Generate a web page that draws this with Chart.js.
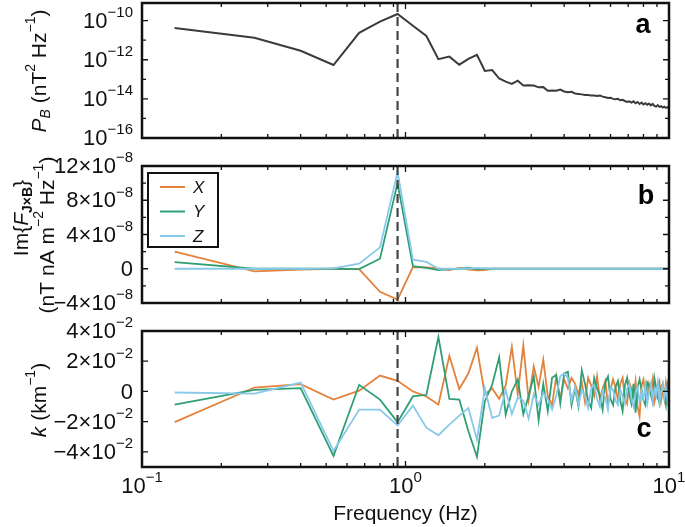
<!DOCTYPE html>
<html>
<head>
<meta charset="utf-8">
<script src="https://cdn.jsdelivr.net/npm/chart.js@4.4.1/dist/chart.umd.min.js"></script>
<style>
  html, body { margin: 0; padding: 0; background: #fff; }
  #wrap { position: relative; width: 685px; height: 527px; overflow: hidden; }
  #wrap canvas { position: absolute; left: 0; }
</style>
</head>
<body>
<div id="wrap">
  <canvas id="chartA" width="685" height="150" style="top:0px"></canvas>
  <canvas id="chartB" width="685" height="175" style="top:145px"></canvas>
  <canvas id="chartC" width="685" height="217" style="top:310px"></canvas>
</div>
<script>
// frequency bins (Hz)
const freq = [
  0.133, 0.267, 0.400, 0.533, 0.667, 0.800, 0.933, 1.067, 1.200, 1.333,
  1.467, 1.600, 1.733, 1.867, 2.000, 2.133, 2.267, 2.400, 2.533, 2.667,
  2.800, 2.933, 3.067, 3.200, 3.333, 3.467, 3.600, 3.733, 3.867, 4.000,
  4.133, 4.267, 4.400, 4.533, 4.667, 4.800, 4.933, 5.067, 5.200, 5.333,
  5.467, 5.600, 5.733, 5.867, 6.000, 6.133, 6.267, 6.400, 6.533, 6.667,
  6.800, 6.933, 7.067, 7.200, 7.333, 7.467, 7.600, 7.733, 7.867, 8.000,
  8.133, 8.267, 8.400, 8.533, 8.667, 8.800, 8.933, 9.067, 9.200, 9.333,
  9.467, 9.600, 9.733, 9.867, 10.000
];

// panel a: P_B
const powerB = [
  4.2e-11, 1.35e-11, 2.9e-12, 5.4e-13, 2.4e-11, 8.9e-11, 2.2e-10, 5.5e-11, 1.65e-11, 1.07e-12,
  1.45e-12, 5.6e-13, 1.1e-12, 1.8e-12, 2.7e-13, 3.0e-13, 1.1e-13, 7.6e-14, 5.8e-14, 8.5e-14,
  4.8e-14, 5.0e-14, 4.8e-14, 3.9e-14, 4.0e-14, 2.6e-14, 2.7e-14, 2.6e-14, 3.0e-14, 2.4e-14,
  2.2e-14, 2.3e-14, 1.9e-14, 1.8e-14, 1.7e-14, 1.6e-14, 1.6e-14, 1.5e-14, 1.5e-14, 1.4e-14,
  1.5e-14, 1.3e-14, 1.2e-14, 1.1e-14, 1.15e-14, 1.0e-14, 9.5e-15, 1.0e-14, 8.5e-15, 9.0e-15,
  7.8e-15, 7.0e-15, 7.5e-15, 6.5e-15, 7.5e-15, 6.0e-15, 7.0e-15, 5.5e-15, 6.5e-15, 5.2e-15,
  6.0e-15, 5.0e-15, 5.8e-15, 4.6e-15, 5.5e-15, 4.4e-15, 4.0e-15, 4.8e-15, 3.9e-15, 4.2e-15,
  3.6e-15, 4.0e-15, 3.5e-15, 3.8e-15, 3.2e-15
];

// panel b: Im{F_JxB}
const forceX = [
  2.0e-8, -0.3e-8, -0.1e-8, 0, -0.05e-8, -2.7e-8, -3.6e-8, 0.2e-8, 0.15e-8, 0.05e-8,
  -0.15e-8, 0.1e-8, -0.1e-8, -0.2e-8, -0.15e-8, 0, 0, 0, 0, 0,
  0, 0, 0, 0, 0, 0, 0, 0, 0, 0,
  0, 0, 0, 0, 0, 0, 0, 0, 0, 0,
  0, 0, 0, 0, 0, 0, 0, 0, 0, 0,
  0, 0, 0, 0, 0, 0, 0, 0, 0, 0,
  0, 0, 0, 0, 0, 0, 0, 0, 0, 0,
  0, 0, 0, 0, 0
];
const forceY = [
  0.77e-8, 0, 0, 0, -0.05e-8, 1.17e-8, 10.0e-8, 0.3e-8, 0.1e-8, -0.15e-8,
  -0.05e-8, 0, 0.1e-8, -0.05e-8, 0, 0, 0, 0, 0, 0,
  0, 0, 0, 0, 0, 0, 0, 0, 0, 0,
  0, 0, 0, 0, 0, 0, 0, 0, 0, 0,
  0, 0, 0, 0, 0, 0, 0, 0, 0, 0,
  0, 0, 0, 0, 0, 0, 0, 0, 0, 0,
  0, 0, 0, 0, 0, 0, 0, 0, 0, 0,
  0, 0, 0, 0, 0
];
const forceZ = [
  0, 0, 0, 0.05e-8, 0.6e-8, 2.5e-8, 11.3e-8, 1.05e-8, 0.8e-8, 0,
  0, 0, 0, 0.1e-8, 0.05e-8, 0, 0, 0, 0, 0,
  0, 0, 0, 0, 0, 0, 0, 0, 0, 0,
  0, 0, 0, 0, 0, 0, 0, 0, 0, 0,
  0, 0, 0, 0, 0, 0, 0, 0, 0, 0,
  0, 0, 0, 0, 0, 0, 0, 0, 0, 0,
  0, 0, 0, 0, 0, 0, 0, 0, 0, 0,
  0, 0, 0, 0, 0
];

// panel c: k
const kX = [
  -2.03e-2, 0.26e-2, 0.48e-2, -0.54e-2, 0.05e-2, 1.05e-2, 0.7e-2, 0.0, -0.33e-2, -0.87e-2,
  2.36e-2, 0.16e-2, 1.2e-2, 2.9e-2, -0.2e-2, 0.2e-2, -0.5e-2, 0.4e-2, 2.95e-2, -0.2e-2,
  3.05e-2, -0.55e-2, 1.65e-2, 0.3e-2, 2.1e-2, -0.3e-2, -0.9e-2, 1.0e-2, -0.5e-2, 0.8e-2,
  0.2e-2, 0.9e-2, 0.5e-2, -0.2e-2, 0.6e-2, -0.7e-2, 0.9e-2, 0.4e-2, -0.3e-2, 1.0e-2,
  -0.5e-2, 0.2e-2, 0.7e-2, -0.9e-2, 0.1e-2, 0.8e-2, 0.3e-2, -0.6e-2, 0.5e-2, 0.9e-2,
  -0.4e-2, -0.8e-2, 0.6e-2, 0.2e-2, -0.3e-2, 0.7e-2, -1.0e-2, -1.65e-2, 0.4e-2, 0.8e-2,
  -0.2e-2, -0.6e-2, 0.5e-2, 0.1e-2, 0.8e-2, -0.7e-2, -0.2e-2, 0.4e-2, 0.7e-2, -0.6e-2,
  0.1e-2, -0.5e-2, 0.6e-2, 0.0, -0.3e-2
];
const kY = [
  -0.87e-2, 0.1e-2, 0.22e-2, -4.26e-2, 0.44e-2, -0.54e-2, -2.03e-2, -0.33e-2, -0.22e-2, 3.6e-2,
  -0.5e-2, -0.54e-2, -2.64e-2, -4.33e-2, -0.66e-2, 0.44e-2, 2.26e-2, -1.53e-2, 0.0, 0.8e-2,
  -1.5e-2, -0.3e-2, 1.0e-2, -1.9e-2, 0.5e-2, -1.3e-2, 0.9e-2, 1.1e-2, -0.8e-2, 1.2e-2,
  1.3e-2, -0.9e-2, 0.2e-2, -1.0e-2, 1.4e-2, 0.5e-2, -0.6e-2, -1.1e-2, 0.9e-2, 0.2e-2,
  -0.3e-2, -1.2e-2, 0.6e-2, 1.0e-2, -0.5e-2, -0.9e-2, 0.3e-2, 0.7e-2, -0.6e-2, -1.3e-2,
  0.4e-2, 0.9e-2, -0.2e-2, -0.8e-2, 0.5e-2, -1.4e-2, 0.3e-2, 0.8e-2, 0.1e-2, -0.6e-2,
  -0.9e-2, 0.6e-2, 0.4e-2, -0.2e-2, -0.7e-2, 0.9e-2, 0.3e-2, -0.4e-2, -0.8e-2, 0.2e-2,
  0.5e-2, -0.3e-2, -0.9e-2, 0.4e-2, -0.2e-2
];
const kZ = [
  -0.07e-2, -0.15e-2, 0.59e-2, -3.94e-2, -1.2e-2, -1.2e-2, -2.25e-2, -0.94e-2, -2.4e-2, -2.9e-2,
  -2.2e-2, -1.6e-2, -1.1e-2, -3.2e-2, 0.2e-2, -1.75e-2, -1.6e-2, 0.1e-2, -1.5e-2, -0.4e-2,
  -0.6e-2, -1.8e-2, -0.2e-2, -0.9e-2, -0.1e-2, -0.5e-2, -1.2e-2, -0.3e-2, 1.0e-2, 1.2e-2,
  0.9e-2, -0.6e-2, 0.3e-2, -0.9e-2, 0.1e-2, -0.3e-2, -1.1e-2, 0.2e-2, 0.4e-2, -0.5e-2,
  -1.0e-2, 0.0, -0.4e-2, -1.2e-2, 0.3e-2, 0.1e-2, -0.6e-2, -0.9e-2, 0.1e-2, -0.3e-2,
  -0.8e-2, 0.2e-2, 0.5e-2, -0.5e-2, -1.0e-2, -0.1e-2, 0.3e-2, -0.7e-2, 0.0, -0.5e-2,
  0.4e-2, -0.8e-2, -0.1e-2, 0.5e-2, -0.6e-2, 0.1e-2, -0.3e-2, 0.6e-2, -0.7e-2, 0.0,
  0.5e-2, -0.4e-2, 0.2e-2, -0.6e-2, 0.3e-2
];

const markerFreq = 0.933;
const seriesNames = ["X", "Y", "Z"];

// tick marks and labels
const xMajor = [0.1, 1, 10];
const xMinor = [0.2, 0.3, 0.4, 0.5, 0.6, 0.7, 0.8, 0.9, 2, 3, 4, 5, 6, 7, 8, 9];
const xTickLabels = [["10", "−1"], ["10", "0"], ["10", "1"]];
const powerTicks = [1e-16, 1e-15, 1e-14, 1e-13, 1e-12, 1e-11, 1e-10];
const powerLabelTicks = [1e-16, 1e-14, 1e-12, 1e-10];
const powerTickLabels = [["10", "−16"], ["10", "−14"], ["10", "−12"], ["10", "−10"]];
const forceTicks = [-4e-8, -2e-8, 0, 2e-8, 4e-8, 6e-8, 8e-8, 10e-8, 12e-8];
const forceLabelTicks = [-4e-8, 0, 4e-8, 8e-8, 12e-8];
const forceTickLabels = [["−4×10", "−8"], ["0", ""], ["4×10", "−8"], ["8×10", "−8"], ["12×10", "−8"]];
const kTicks = [-4e-2, -2e-2, 0, 2e-2, 4e-2];
const kTickLabels = [["−4×10", "−2"], ["−2×10", "−2"], ["0", ""], ["2×10", "−2"], ["4×10", "−2"]];

const FONT = "'Liberation Sans', Arial, Helvetica, sans-serif";
const COLORS = { X: "#e2823c", Y: "#2f9f74", Z: "#88c9ea", psd: "#3b3b3b" };

function fontFor(p, size) {
  const s = p.s ? Math.round(size * 0.68) : size;
  return (p.i ? "italic " : "") + (p.b ? "bold " : "") + s + "px " + FONT;
}

function drawRich(ctx, parts, x, y, align, rot, size) {
  ctx.save();
  ctx.translate(x, y);
  if (rot) ctx.rotate(rot);
  ctx.textBaseline = "middle";
  ctx.textAlign = "left";
  ctx.fillStyle = "#111";
  let w = 0;
  parts.forEach(p => { ctx.font = fontFor(p, size); w += ctx.measureText(p.t).width; });
  let cx = align === "center" ? -w / 2 : align === "right" ? -w : 0;
  parts.forEach(p => {
    ctx.font = fontFor(p, size);
    const dy = p.s === "sup" ? -size * 0.4 : p.s === "sub" ? size * 0.3 : 0;
    ctx.fillText(p.t, cx, dy);
    cx += ctx.measureText(p.t).width;
  });
  ctx.restore();
}

function tickParts(lbl) {
  const parts = [{ t: lbl[0] }];
  if (lbl[1]) parts.push({ t: lbl[1], s: "sup" });
  return parts;
}

// frame, inward ticks, labels, titles, dashed marker
function panelPlugin(cfg) {
  return {
    id: "panel_" + cfg.name,
    afterDatasetsDraw(chart) {
      const { ctx, chartArea } = chart;
      const x = chart.scales.x.getPixelForValue(markerFreq);
      ctx.save();
      ctx.strokeStyle = "#454545";
      ctx.lineWidth = 2.2;
      ctx.setLineDash([9, 5]);
      ctx.beginPath();
      ctx.moveTo(x, chartArea.top);
      ctx.lineTo(x, chartArea.bottom);
      ctx.stroke();
      ctx.restore();
    },
    afterDraw(chart) {
      const { ctx, chartArea: a } = chart;
      const xs = chart.scales.x, ys = chart.scales.y;
      ctx.save();
      ctx.strokeStyle = "#111";
      ctx.lineWidth = 1.3;
      ctx.beginPath();
      xMajor.concat(xMinor).forEach(v => {
        const px = xs.getPixelForValue(v);
        const len = xMajor.includes(v) ? 6 : 4;
        ctx.moveTo(px, a.bottom); ctx.lineTo(px, a.bottom - len);
        ctx.moveTo(px, a.top); ctx.lineTo(px, a.top + len);
      });
      cfg.yTicks.forEach(v => {
        const py = ys.getPixelForValue(v);
        const len = cfg.yLabelTicks.includes(v) ? 6 : 4;
        ctx.moveTo(a.left, py); ctx.lineTo(a.left + len, py);
        ctx.moveTo(a.right, py); ctx.lineTo(a.right - len, py);
      });
      ctx.stroke();
      ctx.lineWidth = 2.5;
      ctx.strokeRect(a.left, a.top, a.right - a.left, a.bottom - a.top);
      ctx.restore();

      cfg.yLabelTicks.forEach((v, i) => {
        drawRich(ctx, tickParts(cfg.yTickLabels[i]), a.left - 9, ys.getPixelForValue(v) + 1, "right", 0, 22);
      });
      if (cfg.xLabels) {
        xMajor.forEach((v, i) => {
          drawRich(ctx, tickParts(xTickLabels[i]), xs.getPixelForValue(v), a.bottom + 20, "center", 0, 22);
        });
        drawRich(ctx, [{ t: "Frequency (Hz)" }], (a.left + a.right) / 2, a.bottom + 47, "center", 0, 21);
      }
      cfg.titles.forEach(tl => drawRich(ctx, tl.parts, tl.x, tl.y, "center", -Math.PI / 2, 21));

      ctx.save();
      ctx.fillStyle = "#000";
      ctx.font = "bold 27px " + FONT;
      ctx.textAlign = "center";
      ctx.textBaseline = "alphabetic";
      ctx.fillText(cfg.name, cfg.letter[0], cfg.letter[1]);
      ctx.restore();

      if (cfg.legend) {
        ctx.save();
        ctx.strokeStyle = "#111";
        ctx.lineWidth = 2;
        ctx.strokeRect(a.left + 6, a.top + 7, 70, 74);
        chart.data.datasets.forEach((ds, i) => {
          const y = a.top + 21 + i * 24.5;
          ctx.strokeStyle = ds.borderColor;
          ctx.lineWidth = 2;
          ctx.beginPath();
          ctx.moveTo(a.left + 18, y);
          ctx.lineTo(a.left + 43, y);
          ctx.stroke();
          ctx.fillStyle = "#111";
          ctx.font = "italic 17px " + FONT;
          ctx.textBaseline = "middle";
          ctx.textAlign = "left";
          ctx.fillText(ds.label, a.left + 51, y + 1);
        });
        ctx.restore();
      }
    }
  };
}

function pts(values) {
  return freq.map((f, i) => ({ x: f, y: values[i] }));
}

function makeChart(id, datasets, yScale, padding, cfg) {
  return new Chart(document.getElementById(id), {
    type: "line",
    data: { datasets: datasets },
    options: {
      responsive: false,
      animation: false,
      layout: { padding: padding },
      elements: { point: { radius: 0 }, line: { tension: 0 } },
      plugins: { legend: { display: false }, tooltip: { enabled: false } },
      scales: {
        x: { type: "logarithmic", min: 0.1, max: 10, display: false },
        y: Object.assign({ display: false }, yScale)
      }
    },
    plugins: [panelPlugin(cfg)]
  });
}

function xyzSets(vx, vy, vz) {
  return [
    { label: seriesNames[0], data: pts(vx), borderColor: COLORS.X, borderWidth: 1.8, order: 3 },
    { label: seriesNames[1], data: pts(vy), borderColor: COLORS.Y, borderWidth: 1.8, order: 2 },
    { label: seriesNames[2], data: pts(vz), borderColor: COLORS.Z, borderWidth: 1.8, order: 1 }
  ];
}

makeChart("chartA",
  [{ label: "PB", data: pts(powerB), borderColor: COLORS.psd, borderWidth: 2 }],
  { type: "logarithmic", min: 1e-16, max: 8e-10 },
  { left: 142, right: 16, top: 3, bottom: 12 },
  {
    name: "a", letter: [643, 33],
    yTicks: powerTicks, yLabelTicks: powerLabelTicks, yTickLabels: powerTickLabels,
    titles: [{ x: 40, y: 71, parts: [{ t: "P", i: 1 }, { t: "B", i: 1, s: "sub" }, { t: " (nT" }, { t: "2", s: "sup" }, { t: " Hz" }, { t: "−1", s: "sup" }, { t: ")" }] }]
  });

makeChart("chartB",
  xyzSets(forceX, forceY, forceZ),
  { type: "linear", min: -4e-8, max: 12e-8 },
  { left: 142, right: 16, top: 21, bottom: 17 },
  {
    name: "b", letter: [646, 59], legend: true,
    yTicks: forceTicks, yLabelTicks: forceLabelTicks, yTickLabels: forceTickLabels,
    titles: [
      { x: 22, y: 73, parts: [{ t: "Im{" }, { t: "F", i: 1 }, { t: "J×B", b: 1, s: "sub" }, { t: "}" }] },
      { x: 48, y: 90, parts: [{ t: "(nT nA m" }, { t: "−2", s: "sup" }, { t: " Hz" }, { t: "−1", s: "sup" }, { t: ")" }] }
    ]
  });

makeChart("chartC",
  xyzSets(kX, kY, kZ),
  { type: "linear", min: -5e-2, max: 4e-2 },
  { left: 142, right: 16, top: 21, bottom: 60 },
  {
    name: "c", letter: [644, 127], xLabels: true,
    yTicks: kTicks, yLabelTicks: kTicks, yTickLabels: kTickLabels,
    titles: [{ x: 40, y: 90, parts: [{ t: "k", i: 1 }, { t: " (km" }, { t: "−1", s: "sup" }, { t: ")" }] }]
  });
</script>
</body>
</html>
